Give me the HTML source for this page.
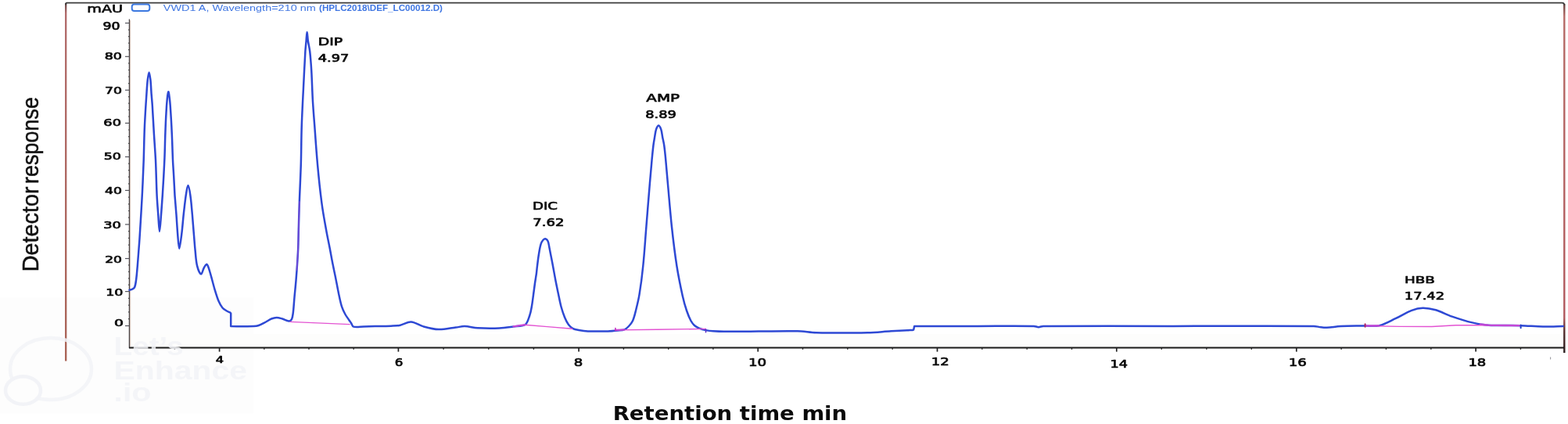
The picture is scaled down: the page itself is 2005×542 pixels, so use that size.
<!DOCTYPE html>
<html lang="en">
<head>
<meta charset="utf-8">
<title>Chromatogram</title>
<style>
html,body{margin:0;padding:0;background:#ffffff;}
body{width:2005px;height:542px;overflow:hidden;}
svg{display:block;}
</style>
</head>
<body>
<svg width="2005" height="542" viewBox="0 0 2005 542">
<defs>
<filter id="soft" filterUnits="userSpaceOnUse" x="0" y="0" width="2005" height="542"><feGaussianBlur stdDeviation="0.45"/></filter>
<linearGradient id="lg" gradientUnits="userSpaceOnUse" x1="0" y1="3" x2="0" y2="462"><stop offset="0" stop-color="#5a4040"/><stop offset="0.03" stop-color="#b06868"/><stop offset="1" stop-color="#a86052"/></linearGradient>
<linearGradient id="rg" gradientUnits="userSpaceOnUse" x1="0" y1="3" x2="0" y2="451"><stop offset="0" stop-color="#5a3a38"/><stop offset="0.04" stop-color="#b56a66"/><stop offset="0.9" stop-color="#b0585c"/><stop offset="0.935" stop-color="#5a3030"/><stop offset="1" stop-color="#2a2020"/></linearGradient>
<filter id="soft2" filterUnits="userSpaceOnUse" x="0" y="0" width="2005" height="542"><feGaussianBlur stdDeviation="0.7"/></filter>
</defs>
<rect x="0" y="0" width="2005" height="542" fill="#ffffff"/>

<rect x="0" y="380" width="324.5" height="148.5" fill="#fdfdfd"/>
<rect x="166.5" y="427" width="1829" height="17" fill="#fdfdfc"/>
<g id="frame" filter="url(#soft)">
<line x1="84.2" y1="4" x2="84.2" y2="461.6" stroke="url(#lg)" stroke-width="2.3"/>
<line x1="2000.3" y1="5" x2="2000.3" y2="451" stroke="url(#rg)" stroke-width="2.4"/>
<path d="M84.2,6.2 L84.2,4.7 Q84.2,3.55 85.4,3.55 L1997.5,3.55 Q2000.3,3.55 2000.3,6.6" fill="none" stroke="#3c3c3c" stroke-width="1.8"/>
</g>
<g id="axes" filter="url(#soft)" fill="none">
<line x1="166.6" y1="26" x2="166.6" y2="443" stroke-width="1.2" stroke="#e0cfc6"/>
<line x1="165.4" y1="24.6" x2="165.4" y2="445" stroke-width="1.3" stroke="#4c4446"/>
<line x1="165" y1="444.4" x2="2000" y2="444.4" stroke-width="2" stroke="#1a1a1a"/>
<line x1="160.0" y1="29.5" x2="165.4" y2="29.5" stroke-width="1.2" stroke="#55555c"/>
<line x1="160.0" y1="72.3" x2="165.4" y2="72.3" stroke-width="1.2" stroke="#55555c"/>
<line x1="160.0" y1="115.2" x2="165.4" y2="115.2" stroke-width="1.2" stroke="#55555c"/>
<line x1="160.0" y1="157.4" x2="165.4" y2="157.4" stroke-width="1.2" stroke="#55555c"/>
<line x1="160.0" y1="200.5" x2="165.4" y2="200.5" stroke-width="1.2" stroke="#55555c"/>
<line x1="160.0" y1="243.4" x2="165.4" y2="243.4" stroke-width="1.2" stroke="#55555c"/>
<line x1="160.0" y1="286.9" x2="165.4" y2="286.9" stroke-width="1.2" stroke="#55555c"/>
<line x1="160.0" y1="330.5" x2="165.4" y2="330.5" stroke-width="1.2" stroke="#55555c"/>
<line x1="160.0" y1="372.6" x2="165.4" y2="372.6" stroke-width="1.2" stroke="#55555c"/>
<line x1="160.0" y1="416.5" x2="165.4" y2="416.5" stroke-width="1.2" stroke="#55555c"/>
<line x1="164.0" y1="38.1" x2="165.4" y2="38.1" stroke-width="1.2" stroke="#4a4a4a"/>
<line x1="164.0" y1="46.6" x2="165.4" y2="46.6" stroke-width="1.2" stroke="#4a4a4a"/>
<line x1="164.0" y1="55.2" x2="165.4" y2="55.2" stroke-width="1.2" stroke="#4a4a4a"/>
<line x1="164.0" y1="63.7" x2="165.4" y2="63.7" stroke-width="1.2" stroke="#4a4a4a"/>
<line x1="164.0" y1="80.9" x2="165.4" y2="80.9" stroke-width="1.2" stroke="#4a4a4a"/>
<line x1="164.0" y1="89.5" x2="165.4" y2="89.5" stroke-width="1.2" stroke="#4a4a4a"/>
<line x1="164.0" y1="98.0" x2="165.4" y2="98.0" stroke-width="1.2" stroke="#4a4a4a"/>
<line x1="164.0" y1="106.6" x2="165.4" y2="106.6" stroke-width="1.2" stroke="#4a4a4a"/>
<line x1="164.0" y1="123.6" x2="165.4" y2="123.6" stroke-width="1.2" stroke="#4a4a4a"/>
<line x1="164.0" y1="132.1" x2="165.4" y2="132.1" stroke-width="1.2" stroke="#4a4a4a"/>
<line x1="164.0" y1="140.5" x2="165.4" y2="140.5" stroke-width="1.2" stroke="#4a4a4a"/>
<line x1="164.0" y1="149.0" x2="165.4" y2="149.0" stroke-width="1.2" stroke="#4a4a4a"/>
<line x1="164.0" y1="166.0" x2="165.4" y2="166.0" stroke-width="1.2" stroke="#4a4a4a"/>
<line x1="164.0" y1="174.6" x2="165.4" y2="174.6" stroke-width="1.2" stroke="#4a4a4a"/>
<line x1="164.0" y1="183.3" x2="165.4" y2="183.3" stroke-width="1.2" stroke="#4a4a4a"/>
<line x1="164.0" y1="191.9" x2="165.4" y2="191.9" stroke-width="1.2" stroke="#4a4a4a"/>
<line x1="164.0" y1="209.1" x2="165.4" y2="209.1" stroke-width="1.2" stroke="#4a4a4a"/>
<line x1="164.0" y1="217.7" x2="165.4" y2="217.7" stroke-width="1.2" stroke="#4a4a4a"/>
<line x1="164.0" y1="226.2" x2="165.4" y2="226.2" stroke-width="1.2" stroke="#4a4a4a"/>
<line x1="164.0" y1="234.8" x2="165.4" y2="234.8" stroke-width="1.2" stroke="#4a4a4a"/>
<line x1="164.0" y1="252.1" x2="165.4" y2="252.1" stroke-width="1.2" stroke="#4a4a4a"/>
<line x1="164.0" y1="260.8" x2="165.4" y2="260.8" stroke-width="1.2" stroke="#4a4a4a"/>
<line x1="164.0" y1="269.5" x2="165.4" y2="269.5" stroke-width="1.2" stroke="#4a4a4a"/>
<line x1="164.0" y1="278.2" x2="165.4" y2="278.2" stroke-width="1.2" stroke="#4a4a4a"/>
<line x1="164.0" y1="295.6" x2="165.4" y2="295.6" stroke-width="1.2" stroke="#4a4a4a"/>
<line x1="164.0" y1="304.3" x2="165.4" y2="304.3" stroke-width="1.2" stroke="#4a4a4a"/>
<line x1="164.0" y1="313.1" x2="165.4" y2="313.1" stroke-width="1.2" stroke="#4a4a4a"/>
<line x1="164.0" y1="321.8" x2="165.4" y2="321.8" stroke-width="1.2" stroke="#4a4a4a"/>
<line x1="164.0" y1="338.9" x2="165.4" y2="338.9" stroke-width="1.2" stroke="#4a4a4a"/>
<line x1="164.0" y1="347.3" x2="165.4" y2="347.3" stroke-width="1.2" stroke="#4a4a4a"/>
<line x1="164.0" y1="355.8" x2="165.4" y2="355.8" stroke-width="1.2" stroke="#4a4a4a"/>
<line x1="164.0" y1="364.2" x2="165.4" y2="364.2" stroke-width="1.2" stroke="#4a4a4a"/>
<line x1="164.0" y1="381.4" x2="165.4" y2="381.4" stroke-width="1.2" stroke="#4a4a4a"/>
<line x1="164.0" y1="390.2" x2="165.4" y2="390.2" stroke-width="1.2" stroke="#4a4a4a"/>
<line x1="164.0" y1="398.9" x2="165.4" y2="398.9" stroke-width="1.2" stroke="#4a4a4a"/>
<line x1="164.0" y1="407.7" x2="165.4" y2="407.7" stroke-width="1.2" stroke="#4a4a4a"/>
<line x1="280.6" y1="444" x2="280.6" y2="449.6" stroke-width="1.7" stroke="#222"/>
<line x1="509.4" y1="444" x2="509.4" y2="449.6" stroke-width="1.7" stroke="#222"/>
<line x1="740.1" y1="444" x2="740.1" y2="449.6" stroke-width="1.7" stroke="#222"/>
<line x1="969.2" y1="444" x2="969.2" y2="449.6" stroke-width="1.7" stroke="#222"/>
<line x1="1198.5" y1="444" x2="1198.5" y2="449.6" stroke-width="1.7" stroke="#222"/>
<line x1="1427.8" y1="444" x2="1427.8" y2="449.6" stroke-width="1.7" stroke="#222"/>
<line x1="1657.8" y1="444" x2="1657.8" y2="449.6" stroke-width="1.7" stroke="#222"/>
<line x1="1887.1" y1="444" x2="1887.1" y2="449.6" stroke-width="1.7" stroke="#222"/>
<line x1="223.4" y1="444" x2="223.4" y2="446.8" stroke-width="1.4" stroke="#222"/>
<line x1="337.8" y1="444" x2="337.8" y2="446.8" stroke-width="1.4" stroke="#222"/>
<line x1="395.0" y1="444" x2="395.0" y2="446.8" stroke-width="1.4" stroke="#222"/>
<line x1="452.2" y1="444" x2="452.2" y2="446.8" stroke-width="1.4" stroke="#222"/>
<line x1="567.1" y1="444" x2="567.1" y2="446.8" stroke-width="1.4" stroke="#222"/>
<line x1="624.8" y1="444" x2="624.8" y2="446.8" stroke-width="1.4" stroke="#222"/>
<line x1="682.4" y1="444" x2="682.4" y2="446.8" stroke-width="1.4" stroke="#222"/>
<line x1="797.4" y1="444" x2="797.4" y2="446.8" stroke-width="1.4" stroke="#222"/>
<line x1="854.7" y1="444" x2="854.7" y2="446.8" stroke-width="1.4" stroke="#222"/>
<line x1="911.9" y1="444" x2="911.9" y2="446.8" stroke-width="1.4" stroke="#222"/>
<line x1="1026.5" y1="444" x2="1026.5" y2="446.8" stroke-width="1.4" stroke="#222"/>
<line x1="1083.8" y1="444" x2="1083.8" y2="446.8" stroke-width="1.4" stroke="#222"/>
<line x1="1141.2" y1="444" x2="1141.2" y2="446.8" stroke-width="1.4" stroke="#222"/>
<line x1="1255.8" y1="444" x2="1255.8" y2="446.8" stroke-width="1.4" stroke="#222"/>
<line x1="1313.2" y1="444" x2="1313.2" y2="446.8" stroke-width="1.4" stroke="#222"/>
<line x1="1370.5" y1="444" x2="1370.5" y2="446.8" stroke-width="1.4" stroke="#222"/>
<line x1="1485.3" y1="444" x2="1485.3" y2="446.8" stroke-width="1.4" stroke="#222"/>
<line x1="1542.8" y1="444" x2="1542.8" y2="446.8" stroke-width="1.4" stroke="#222"/>
<line x1="1600.3" y1="444" x2="1600.3" y2="446.8" stroke-width="1.4" stroke="#222"/>
<line x1="1715.1" y1="444" x2="1715.1" y2="446.8" stroke-width="1.4" stroke="#222"/>
<line x1="1772.4" y1="444" x2="1772.4" y2="446.8" stroke-width="1.4" stroke="#222"/>
<line x1="1829.8" y1="444" x2="1829.8" y2="446.8" stroke-width="1.4" stroke="#222"/>
<line x1="1944.4" y1="444" x2="1944.4" y2="446.8" stroke-width="1.4" stroke="#222"/>
</g>
<path id="trace" filter="url(#soft)" d="M165.5,370.8 C166.7,370.5 168.0,370.4 169.0,369.8 C170.2,369.1 171.7,368.3 172.2,367.0 C173.5,363.7 173.8,359.7 174.3,356.0 C175.0,350.7 175.3,345.3 175.8,340.0 C176.3,334.0 176.7,328.0 177.2,322.0 C177.7,315.7 178.2,309.3 178.6,303.0 C179.1,295.3 179.5,287.7 180.0,280.0 C180.4,272.7 180.9,265.3 181.3,258.0 C181.8,249.3 182.2,240.7 182.6,232.0 C183.0,223.0 183.4,214.0 183.7,205.0 C184.2,190.0 184.3,175.0 185.0,160.0 C185.6,146.7 186.5,133.3 187.4,120.0 C187.8,114.0 188.1,108.0 188.8,102.0 C189.2,98.8 190.0,92.4 190.6,92.4 C191.2,92.4 192.0,98.8 192.4,102.0 C193.0,107.9 193.2,113.9 193.6,119.8 C194.0,124.8 194.5,129.8 194.8,134.8 C195.5,146.4 196.1,158.0 196.8,169.6 C197.5,181.2 198.4,192.9 199.0,204.5 C199.7,219.6 199.9,234.7 200.6,249.8 C201.0,258.1 201.7,266.4 202.3,274.7 C202.8,281.8 203.4,295.9 204.0,295.9 C204.6,295.9 205.4,281.8 206.0,274.7 C206.7,266.4 207.2,258.1 207.8,249.8 C208.3,241.5 208.8,233.2 209.3,224.9 C209.7,216.6 210.2,208.3 210.5,200.0 C210.9,189.9 211.0,179.7 211.4,169.6 C211.7,161.3 212.0,153.0 212.5,144.7 C212.8,138.5 213.2,132.2 213.8,126.0 C214.1,123.1 214.8,117.7 215.3,117.3 C215.7,117.0 216.3,121.7 216.6,124.0 C217.1,127.6 217.5,131.2 217.7,134.8 C218.5,146.4 219.2,158.0 219.7,169.6 C220.3,181.2 220.5,192.9 221.0,204.5 C221.3,211.3 221.8,218.1 222.2,224.9 C222.7,233.2 223.0,241.5 223.5,249.8 C224.1,258.1 224.9,266.4 225.5,274.7 C226.1,283.0 226.5,291.3 227.2,299.6 C227.7,305.7 228.4,317.8 229.2,317.8 C230.0,317.8 231.4,305.7 232.2,299.6 C233.3,291.3 233.8,283.0 234.7,274.7 C235.6,266.4 236.5,258.1 237.7,249.8 C238.4,245.5 239.5,236.9 240.4,236.9 C241.4,236.9 242.8,245.4 243.4,249.8 C244.6,258.0 245.1,266.4 245.9,274.7 C246.6,283.0 247.2,291.3 247.9,299.6 C248.5,306.4 248.9,313.2 249.6,320.0 C250.3,326.6 250.5,333.5 252.1,339.9 C253.0,343.6 255.4,350.0 257.1,350.4 C258.4,350.7 259.4,344.6 261.0,342.0 C261.9,340.5 263.8,337.3 264.6,337.9 C266.2,339.1 267.3,344.2 268.3,347.4 C270.6,354.8 272.3,362.4 274.5,369.8 C276.0,374.8 277.5,380.0 279.5,384.8 C280.8,387.9 282.4,391.0 284.5,393.5 C285.9,395.2 288.1,396.3 290.0,397.5 C291.4,398.4 293.0,399.0 294.5,399.7 L295.2,400.5 L295.2,417.1 L295.2,417.1 C300.1,417.1 305.1,417.2 310.0,417.2 C314.8,417.2 319.5,417.3 324.3,417.1 C326.2,417.0 328.2,416.9 330.0,416.3 C333.4,415.1 336.7,413.2 340.0,411.5 C342.4,410.3 344.5,408.5 347.0,407.5 C349.1,406.6 351.5,405.9 353.7,405.9 C356.1,405.9 358.6,406.8 361.0,407.5 C363.8,408.3 366.7,410.4 369.4,410.5 C370.7,410.6 372.4,409.2 373.0,408.0 C374.2,405.6 374.4,402.5 374.8,399.7 C375.6,393.2 375.9,386.6 376.5,380.0 C377.2,372.5 378.0,364.9 378.6,357.4 C379.6,344.9 380.5,332.5 381.1,320.0 C381.5,311.5 381.6,303.0 381.8,294.5 C382.1,282.9 382.4,271.2 382.8,259.6 C383.4,243.0 384.3,226.4 384.8,209.8 C385.3,193.2 385.2,176.6 385.8,160.0 C386.6,136.6 388.0,113.2 389.1,89.8 C389.5,81.7 389.9,73.6 390.4,65.5 C390.7,61.0 391.2,56.5 391.6,52.0 C391.9,48.4 392.2,41.1 392.6,41.1 C393.0,41.1 393.3,48.4 393.8,52.0 C394.5,56.5 395.7,61.0 396.2,65.5 C397.1,73.6 397.7,81.7 398.2,89.8 C399.0,103.2 399.2,116.6 400.0,130.0 C400.6,140.0 401.4,150.0 402.2,160.0 C403.4,176.6 404.5,193.2 406.0,209.8 C407.5,226.4 409.2,243.1 411.4,259.6 C412.9,271.3 415.1,282.9 417.2,294.5 C418.7,303.0 420.6,311.5 422.2,320.0 C423.4,326.3 424.5,332.7 425.8,339.0 C427.0,345.1 428.4,351.3 429.6,357.4 C430.8,363.6 431.9,369.8 433.2,376.0 C434.4,381.4 435.4,386.9 437.1,392.2 C438.1,395.4 439.7,398.5 441.3,401.5 C442.6,403.9 444.3,406.1 445.8,408.4 C446.8,410.0 448.0,411.5 449.0,413.0 C450.0,414.5 450.4,417.2 452.0,417.6 C455.7,418.6 460.7,417.5 465.0,417.4 C469.8,417.3 474.6,417.2 479.4,417.1 C486.3,417.0 493.1,417.0 500.0,416.7 C503.9,416.5 507.9,416.5 511.8,415.7 C516.5,414.8 521.0,411.3 525.6,411.6 C530.9,411.9 536.1,415.9 541.5,417.4 C547.8,419.1 554.4,420.9 560.9,421.1 C568.2,421.3 575.6,419.4 583.0,418.5 C586.7,418.1 590.4,417.0 594.1,417.1 C599.6,417.2 605.1,418.9 610.7,419.2 C619.9,419.7 629.2,419.8 638.4,419.4 C644.4,419.2 650.4,418.2 656.4,417.4 C661.5,416.7 667.8,417.5 671.6,415.0 C674.7,412.9 675.7,407.5 677.2,403.5 C678.4,400.1 679.1,396.5 679.7,393.0 C680.7,387.7 681.3,382.3 682.0,377.0 C682.7,372.0 683.3,367.0 684.0,362.0 C684.6,357.9 685.3,353.9 685.9,349.8 C686.3,346.8 686.5,343.7 686.9,340.7 C687.5,335.6 688.1,330.5 688.9,325.5 C689.6,321.1 690.2,316.6 691.5,312.3 C692.1,310.3 693.2,308.3 694.5,306.8 C695.2,306.0 696.5,305.0 697.4,305.2 C698.6,305.5 700.0,306.9 700.6,308.2 C701.8,310.9 702.0,314.3 702.6,317.3 C703.5,321.7 704.3,326.1 705.2,330.5 C706.0,334.9 706.9,339.3 707.7,343.7 C708.6,348.5 709.4,353.2 710.3,358.0 C711.5,364.0 712.7,370.0 714.0,376.0 C715.1,381.3 716.1,386.7 717.5,392.0 C718.8,396.7 720.3,401.3 722.1,405.8 C723.4,409.0 725.0,412.3 727.0,415.0 C728.5,417.1 730.6,419.0 732.8,420.2 C734.9,421.3 737.6,421.6 740.0,422.0 C743.9,422.7 747.8,423.3 751.8,423.4 C760.3,423.7 768.8,423.6 777.3,423.4 C781.5,423.3 785.8,422.9 790.0,422.5 C792.8,422.2 795.9,422.3 798.5,421.3 C800.6,420.5 802.4,418.7 804.0,417.0 C806.0,414.9 807.9,412.6 809.1,410.0 C810.9,405.9 811.9,401.4 813.0,397.0 C814.7,390.1 816.5,383.1 817.6,376.1 C819.6,364.1 821.1,352.1 822.3,340.0 C823.9,325.0 824.8,310.0 826.0,295.0 C827.6,274.8 829.2,254.7 830.9,234.5 C831.7,224.6 832.6,214.7 833.5,204.8 C834.1,198.4 834.7,191.9 835.5,185.5 C835.9,182.1 836.5,178.8 837.1,175.4 C837.7,172.0 838.0,168.4 839.1,165.2 C839.7,163.5 841.1,160.5 842.1,160.5 C843.1,160.5 844.6,163.5 845.2,165.2 C846.3,168.4 846.5,172.0 847.2,175.4 C847.9,178.8 848.7,182.1 849.2,185.5 C850.1,191.9 850.7,198.4 851.3,204.8 C852.2,214.7 853.0,224.6 853.9,234.5 C855.6,253.0 857.0,271.5 859.0,290.0 C860.8,306.7 862.8,323.4 865.4,340.0 C867.4,352.8 870.0,365.5 872.8,378.2 C874.2,384.5 875.9,390.8 878.0,397.0 C879.5,401.4 881.2,405.9 883.4,410.0 C884.6,412.2 886.2,414.3 888.0,416.0 C889.7,417.5 891.9,418.7 894.0,419.6 C896.7,420.7 899.6,421.5 902.5,422.1 C905.6,422.7 908.8,423.1 912.0,423.3 C916.6,423.6 921.2,423.8 925.8,423.8 C940.5,423.9 955.3,423.7 970.0,423.6 C986.6,423.5 1003.2,422.9 1019.7,423.3 C1027.7,423.5 1035.6,425.0 1043.6,425.3 C1054.1,425.7 1064.5,425.5 1075.0,425.5 C1086.5,425.5 1098.0,425.7 1109.5,425.3 C1119.5,425.0 1129.4,423.9 1139.4,423.3 C1146.3,422.9 1153.1,422.6 1160.0,422.3 C1162.4,422.2 1164.9,422.0 1167.3,421.9 L1168.2,421.6 L1169.2,416.9 L1169.2,416.9 C1196.1,416.9 1223.1,416.9 1250.0,416.9 C1274.0,416.9 1298.0,416.5 1322.0,416.9 C1324.0,416.9 1326.0,418.2 1328.0,418.2 C1330.0,418.2 1332.0,416.9 1334.0,416.9 C1389.3,416.5 1444.7,416.9 1500.0,416.9 C1560.0,416.9 1620.0,416.5 1680.0,416.9 C1683.0,416.9 1686.0,418.0 1689.0,418.3 C1691.5,418.6 1694.0,418.9 1696.5,418.8 C1702.5,418.5 1708.5,417.3 1714.6,417.0 C1724.9,416.5 1735.3,416.7 1745.6,416.5 C1751.6,416.4 1757.9,417.6 1763.7,416.2 C1770.9,414.5 1777.6,410.4 1784.4,407.2 C1791.4,403.9 1797.9,399.6 1805.0,396.8 C1809.5,395.1 1814.5,393.8 1819.3,393.7 C1824.8,393.6 1830.6,394.7 1836.0,396.3 C1843.1,398.4 1849.7,402.2 1856.7,404.6 C1865.2,407.5 1873.8,410.3 1882.6,412.4 C1889.3,414.0 1896.3,415.3 1903.2,415.7 C1916.9,416.5 1930.8,415.8 1944.6,416.2 C1954.1,416.4 1963.5,417.4 1973.0,417.5 C1981.6,417.6 1990.2,417.2 1998.8,417.0" fill="none" stroke="#2e49d4" stroke-width="2.5" stroke-linejoin="round" stroke-linecap="round"/>
<g id="baselines" filter="url(#soft)" fill="none" stroke="#e352d2" stroke-width="1.4" stroke-linecap="round">
<path d="M371.1,411.4 L447.1,414.6"/>
<path d="M656,417.4 L671.2,415.3 L700,417.6 L731.7,420.2"/>
<path d="M786.9,421.9 L840,421.2 L902.5,420.4"/>
<path d="M1745.6,416.5 L1790,417.4 L1830.9,417.5 L1861.9,415.7 L1903,415.7 L1944.6,416.2"/>
<g stroke="#c846d6" stroke-width="2.3" opacity="0.85">
<path d="M657,417.3 L664,416.2 L671,415.2"/>
<path d="M787.5,421.9 L798,421.3"/>
<path d="M1748,416.4 L1763,416.2"/>
<path d="M1893,414.3 L1903.2,415.7 L1925,416.0 L1943.5,416.2"/>
</g>
<path d="M382.9,258 L382.3,275 L381.8,294.5 L381.2,318 L379.6,345" stroke="#a64ad8" stroke-width="1.8" opacity="0.55"/>
<path d="M1982.6,456.8 L1982.6,459" stroke="#9a9aa0" stroke-width="1.1"/>
<path d="M786.9,419.6 L786.9,422.6" stroke="#c030c0" stroke-width="1.6"/>
<path d="M902.5,421 L902.5,424.8" stroke="#6030c8" stroke-width="1.6"/>
<path d="M1745.6,414.3 L1745.6,417.8" stroke="#b02060" stroke-width="1.9"/>
<path d="M1944.6,415.6 L1944.6,419.2" stroke="#2040c8" stroke-width="2"/>
</g>
<g id="legend">
<text transform="translate(111.20,15.90) scale(1.432,1)" font-family='"DejaVu Sans", "Liberation Sans", sans-serif' font-size="13.42" font-weight="normal" fill="#0a0a0a" stroke="#0a0a0a" stroke-width="0.6" stroke-linejoin="round">mAU</text>
<rect x="168.7" y="5.6" width="22.6" height="8.4" rx="3" ry="3" fill="#ffffff" stroke="#3b78e0" stroke-width="2" filter="url(#soft)"/>
<g font-family='"Liberation Sans", sans-serif' font-size="11" fill="#3f76e2" filter="url(#soft2)">
<text x="208.8" y="13.6" textLength="195" lengthAdjust="spacingAndGlyphs">VWD1 A, Wavelength=210 nm</text>
<text x="408" y="13.6" font-weight="bold" textLength="158" lengthAdjust="spacingAndGlyphs">(HPLC2018\DEF_LC00012.D)</text>
</g>
</g>
<g id="ylabels">
<text transform="translate(131.58,37.75) scale(1.315,1)" font-family='"DejaVu Sans", "Liberation Sans", sans-serif' font-size="13.20" font-weight="normal" fill="#0a0a0a" stroke="#0a0a0a" stroke-width="0.7" stroke-linejoin="round">90</text>
<text transform="translate(133.71,76.26) scale(1.394,1)" font-family='"DejaVu Sans", "Liberation Sans", sans-serif' font-size="12.54" font-weight="normal" fill="#0a0a0a" stroke="#0a0a0a" stroke-width="0.7" stroke-linejoin="round">80</text>
<text transform="translate(133.96,120.46) scale(1.378,1)" font-family='"DejaVu Sans", "Liberation Sans", sans-serif' font-size="12.54" font-weight="normal" fill="#0a0a0a" stroke="#0a0a0a" stroke-width="0.7" stroke-linejoin="round">70</text>
<text transform="translate(132.35,161.26) scale(1.417,1)" font-family='"DejaVu Sans", "Liberation Sans", sans-serif' font-size="12.54" font-weight="normal" fill="#0a0a0a" stroke="#0a0a0a" stroke-width="0.7" stroke-linejoin="round">60</text>
<text transform="translate(132.73,204.36) scale(1.392,1)" font-family='"DejaVu Sans", "Liberation Sans", sans-serif' font-size="12.54" font-weight="normal" fill="#0a0a0a" stroke="#0a0a0a" stroke-width="0.7" stroke-linejoin="round">50</text>
<text transform="translate(134.02,247.86) scale(1.387,1)" font-family='"DejaVu Sans", "Liberation Sans", sans-serif' font-size="12.41" font-weight="normal" fill="#0a0a0a" stroke="#0a0a0a" stroke-width="0.7" stroke-linejoin="round">40</text>
<text transform="translate(132.26,291.96) scale(1.423,1)" font-family='"DejaVu Sans", "Liberation Sans", sans-serif' font-size="12.54" font-weight="normal" fill="#0a0a0a" stroke="#0a0a0a" stroke-width="0.7" stroke-linejoin="round">30</text>
<text transform="translate(134.14,336.06) scale(1.380,1)" font-family='"DejaVu Sans", "Liberation Sans", sans-serif' font-size="12.41" font-weight="normal" fill="#0a0a0a" stroke="#0a0a0a" stroke-width="0.7" stroke-linejoin="round">20</text>
<text transform="translate(135.17,377.97) scale(1.425,1)" font-family='"DejaVu Sans", "Liberation Sans", sans-serif' font-size="12.28" font-weight="normal" fill="#0a0a0a" stroke="#0a0a0a" stroke-width="0.7" stroke-linejoin="round">10</text>
<text transform="translate(146.11,417.46) scale(1.493,1)" font-family='"DejaVu Sans", "Liberation Sans", sans-serif' font-size="12.54" font-weight="normal" fill="#0a0a0a" stroke="#0a0a0a" stroke-width="0.7" stroke-linejoin="round">0</text>
</g>
<g id="xlabels">
<text transform="translate(275.83,464.35) scale(1.275,1)" font-family='"DejaVu Sans", "Liberation Sans", sans-serif' font-size="12.74" font-weight="normal" fill="#0a0a0a" stroke="#0a0a0a" stroke-width="0.7" stroke-linejoin="round">4</text>
<text transform="translate(504.67,467.85) scale(1.268,1)" font-family='"DejaVu Sans", "Liberation Sans", sans-serif' font-size="13.20" font-weight="normal" fill="#0a0a0a" stroke="#0a0a0a" stroke-width="0.7" stroke-linejoin="round">6</text>
<text transform="translate(733.66,468.15) scale(1.370,1)" font-family='"DejaVu Sans", "Liberation Sans", sans-serif' font-size="13.20" font-weight="normal" fill="#0a0a0a" stroke="#0a0a0a" stroke-width="0.7" stroke-linejoin="round">8</text>
<text transform="translate(957.08,467.85) scale(1.376,1)" font-family='"DejaVu Sans", "Liberation Sans", sans-serif' font-size="13.20" font-weight="normal" fill="#0a0a0a" stroke="#0a0a0a" stroke-width="0.7" stroke-linejoin="round">10</text>
<text transform="translate(1190.66,467.35) scale(1.296,1)" font-family='"DejaVu Sans", "Liberation Sans", sans-serif' font-size="14.01" font-weight="normal" fill="#0a0a0a" stroke="#0a0a0a" stroke-width="0.7" stroke-linejoin="round">12</text>
<text transform="translate(1419.59,469.55) scale(1.244,1)" font-family='"DejaVu Sans", "Liberation Sans", sans-serif' font-size="14.25" font-weight="normal" fill="#0a0a0a" stroke="#0a0a0a" stroke-width="0.7" stroke-linejoin="round">14</text>
<text transform="translate(1647.66,468.14) scale(1.299,1)" font-family='"DejaVu Sans", "Liberation Sans", sans-serif' font-size="13.99" font-weight="normal" fill="#0a0a0a" stroke="#0a0a0a" stroke-width="0.7" stroke-linejoin="round">16</text>
<text transform="translate(1877.39,468.15) scale(1.321,1)" font-family='"DejaVu Sans", "Liberation Sans", sans-serif' font-size="13.60" font-weight="normal" fill="#0a0a0a" stroke="#0a0a0a" stroke-width="0.7" stroke-linejoin="round">18</text>
</g>
<g id="peaks">
<text transform="translate(406.65,57.75) scale(1.374,1)" font-family='"DejaVu Sans", "Liberation Sans", sans-serif' font-size="13.70" font-weight="normal" fill="#0a0a0a" stroke="#0a0a0a" stroke-width="0.7" stroke-linejoin="round">DIP</text>
<text transform="translate(406.77,78.75) scale(1.308,1)" font-family='"DejaVu Sans", "Liberation Sans", sans-serif' font-size="13.60" font-weight="normal" fill="#0a0a0a" stroke="#0a0a0a" stroke-width="0.7" stroke-linejoin="round">4.97</text>
<text transform="translate(680.98,268.04) scale(1.314,1)" font-family='"DejaVu Sans", "Liberation Sans", sans-serif' font-size="13.86" font-weight="normal" fill="#0a0a0a" stroke="#0a0a0a" stroke-width="0.7" stroke-linejoin="round">DIC</text>
<text transform="translate(681.28,289.45) scale(1.328,1)" font-family='"DejaVu Sans", "Liberation Sans", sans-serif' font-size="13.60" font-weight="normal" fill="#0a0a0a" stroke="#0a0a0a" stroke-width="0.7" stroke-linejoin="round">7.62</text>
<text transform="translate(826.37,130.05) scale(1.481,1)" font-family='"DejaVu Sans", "Liberation Sans", sans-serif' font-size="13.42" font-weight="normal" fill="#0a0a0a" stroke="#0a0a0a" stroke-width="0.7" stroke-linejoin="round">AMP</text>
<text transform="translate(825.26,150.75) scale(1.310,1)" font-family='"DejaVu Sans", "Liberation Sans", sans-serif' font-size="13.60" font-weight="normal" fill="#0a0a0a" stroke="#0a0a0a" stroke-width="0.7" stroke-linejoin="round">8.89</text>
<text transform="translate(1796.00,362.35) scale(1.390,1)" font-family='"DejaVu Sans", "Liberation Sans", sans-serif' font-size="13.15" font-weight="normal" fill="#0a0a0a" stroke="#0a0a0a" stroke-width="0.7" stroke-linejoin="round">HBB</text>
<text transform="translate(1795.80,383.25) scale(1.348,1)" font-family='"DejaVu Sans", "Liberation Sans", sans-serif' font-size="13.33" font-weight="normal" fill="#0a0a0a" stroke="#0a0a0a" stroke-width="0.7" stroke-linejoin="round">17.42</text>
</g>
<g id="ytitle" font-family='"Liberation Sans", sans-serif' font-size="28.8" fill="#111" stroke="#111" stroke-width="0.5">
<text transform="translate(49.4,347.3) rotate(-90)" textLength="108.8" lengthAdjust="spacingAndGlyphs">Detector</text>
<text transform="translate(49.4,234.9) rotate(-90)" textLength="111" lengthAdjust="spacingAndGlyphs">response</text>
</g>
<text transform="translate(783.65,537.43) scale(1.130,1)" font-family='"DejaVu Sans", "Liberation Sans", sans-serif' font-size="24.39" font-weight="bold" fill="#0a0a0a" >Retention time min</text>
<g id="watermark" font-family='"Liberation Sans", sans-serif' font-weight="bold" font-size="33" fill="#f2f3f7" fill-opacity="0.85">
<ellipse cx="65" cy="471.6" rx="52" ry="39.5" fill="none" stroke="#f2f3f7" stroke-opacity="0.85" stroke-width="4.5"/>
<ellipse cx="29.5" cy="499" rx="22.5" ry="17.8" fill="#fdfdfd" fill-opacity="1" stroke="#f2f3f7" stroke-width="4.5"/>
<text x="145.5" y="453.8" textLength="89" lengthAdjust="spacingAndGlyphs">Let&#8217;s</text>
<text x="145.5" y="484.8" textLength="170.5" lengthAdjust="spacingAndGlyphs">Enhance</text>
<text x="145.5" y="513.3" textLength="48" lengthAdjust="spacingAndGlyphs">.io</text>
</g>
</svg>
</body>
</html>
